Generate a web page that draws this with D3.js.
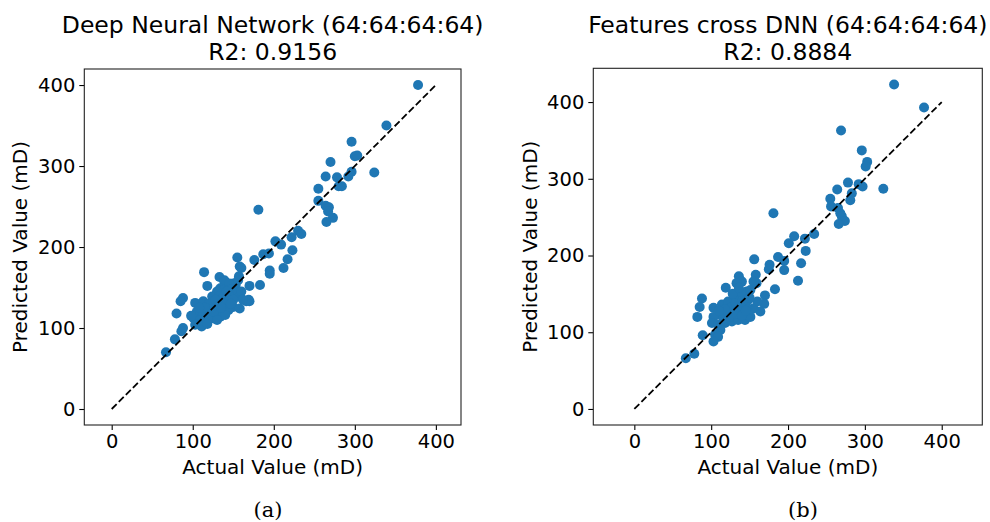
<!DOCTYPE html>
<html>
<head>
<meta charset="utf-8">
<script src="https://cdn.jsdelivr.net/npm/d3@7"></script>
<style>
  html, body { margin: 0; padding: 0; background: #fff; }
  svg { display: block; }
</style>
</head>
<body>
<svg id="chart" width="990" height="522"></svg>
<script>
// ---------- data ----------
const ticks = [0, 100, 200, 300, 400];
const tickLabels = ["0", "100", "200", "300", "400"];
const titlesA = ["Deep Neural Network (64:64:64:64)", "R2: 0.9156"];
const titlesB = ["Features cross DNN (64:64:64:64)", "R2: 0.8884"];
const xLabel = "Actual Value (mD)";
const yLabel = "Predicted Value (mD)";
const captions = ["(a)", "(b)"];
const identityLine = [[0, 0], [400, 400]];

// Panel (a): [actual, predicted]
const dnnPoints = [
  [378,400],[339,350],[296,330],[300,312],[303,313],[270,305],[296,293],[324,292],[264,287],[278,286],
  [292,287],[280,275],[284,275],[255,272],[255,257],[264,251],[268,249],[267,244],[273,236],[265,231],
  [181,246],[230,220],[234,216],[222,212],[202,207],[209,203],[223,196],[194,192],[187,191],[217,185],
  [155,187],[176,184],[212,174],[158,176],[160,174],[195,171],[195,167],[114,169],[118,152],[133,163],
  [139,159],[150,155],[153,153],[170,152],[183,153],[157,164],[156,159],[139,157],[145,155],[134,149],
  [138,147],[130,145],[148,148],[152,143],[158,139],[124,139],[132,139],[138,139],[88,137],[85,133],
  [103,131],[113,133],[166,133],[169,135],[124,126],[134,128],[142,131],[150,126],[158,124],[80,118],
  [105,120],[113,118],[121,116],[130,118],[138,118],[144,122],[101,112],[109,110],[117,112],[125,112],
  [134,114],[140,116],[88,100],[86,96],[111,102],[103,104],[78,86],[67,70],
  [120,130],[128,135],[145,140],[150,135],[115,125],[118,105],[126,120],[135,125],[142,145],[147,130],
  [160,145],[130,110],[98,115],[108,125],[170,133],[162,135]
];

// Panel (b): [actual, predicted]
const crossPoints = [
  [338,423],[377,393],[269,363],[296,337],[303,322],[301,316],[278,295],[264,286],[292,293],[297,290],
  [324,287],[283,281],[281,272],[255,274],[256,264],[265,262],[268,255],[270,251],[274,245],[266,241],
  [181,255],[208,225],[201,216],[222,222],[234,228],[223,206],[217,190],[187,198],[195,193],[176,188],
  [195,181],[175,182],[156,195],[213,167],[183,156],[158,175],[159,164],[136,173],[140,166],[133,164],
  [119,158],[155,166],[88,144],[85,133],[82,120],[103,132],[114,136],[122,140],[131,146],[140,151],
  [146,153],[151,155],[170,148],[169,137],[164,127],[155,131],[146,133],[138,129],[129,127],[120,125],
  [112,123],[103,120],[101,112],[109,110],[118,112],[127,114],[135,116],[144,116],[151,120],[112,103],
  [105,97],[109,94],[103,88],[89,96],[78,72],[67,66],
  [125,132],[132,138],[140,140],[148,142],[116,118],[124,120],[132,124],[140,122],[118,130],[145,128],
  [128,150],[136,158],[160,140],[110,128],[150,145]
];

// ---------- drawing ----------
const svg = d3.select("#chart");
const FONT = "DejaVu Sans, sans-serif";
const COLOR = "#1f77b4";

const panels = [
  { points: dnnPoints, titles: titlesA, caption: captions[0], capX: 268,
    xDom: [-33.8, 431], xRange: [84.3, 461], yDom: [-19.75, 419.8], yRange: [425, 69], yLabelX: 20 },
  { points: crossPoints, titles: titlesB, caption: captions[1], capX: 803,
    xDom: [-53.4, 452.8], xRange: [593.3, 982.3], yDom: [-20.9, 444], yRange: [425, 68.3], yLabelX: 530 }
];

panels.forEach(p => {
  const x = d3.scaleLinear().domain(p.xDom).range(p.xRange);
  const y = d3.scaleLinear().domain(p.yDom).range(p.yRange);
  const g = svg.append("g");

  const left = p.xRange[0], right = p.xRange[1], top = p.yRange[1], bottom = p.yRange[0];
  const cx = (left + right) / 2;

  const clipId = "clip" + Math.round(left);
  svg.append("defs").append("clipPath").attr("id", clipId)
    .append("rect").attr("x", left).attr("y", top).attr("width", right - left).attr("height", bottom - top);

  const plot = g.append("g").attr("clip-path", `url(#${clipId})`);

  plot.selectAll("circle").data(p.points).enter().append("circle")
    .attr("cx", d => x(d[0])).attr("cy", d => y(d[1])).attr("r", 5)
    .attr("fill", COLOR);

  plot.append("path")
    .attr("d", d3.line().x(d => x(d[0])).y(d => y(d[1]))(identityLine))
    .attr("fill", "none").attr("stroke", "#000").attr("stroke-width", 1.8)
    .attr("stroke-dasharray", "7,3");

  const xAxis = d3.axisBottom(x).tickValues(ticks).tickFormat((d, i) => tickLabels[i])
    .tickSize(5).tickPadding(4);
  const yAxis = d3.axisLeft(y).tickValues(ticks).tickFormat((d, i) => tickLabels[i])
    .tickSize(5).tickPadding(4);

  const gx = g.append("g").attr("transform", `translate(0,${bottom})`).call(xAxis);
  const gy = g.append("g").attr("transform", `translate(${left},0)`).call(yAxis);
  [gx, gy].forEach(a => {
    a.select(".domain").remove();
    a.selectAll(".tick line").attr("stroke", "#000").attr("stroke-width", 1.1);
    a.selectAll(".tick text").attr("fill", "#000").style("font-family", FONT).style("font-size", "19.5px");
  });

  g.append("rect").attr("x", left).attr("y", top).attr("width", right - left).attr("height", bottom - top)
    .attr("fill", "none").attr("stroke", "#222").attr("stroke-width", 1.1);

  g.append("text").attr("x", cx).attr("y", 33).attr("text-anchor", "middle")
    .style("font-family", FONT).style("font-size", "23.5px").text(p.titles[0]);
  g.append("text").attr("x", cx).attr("y", 60).attr("text-anchor", "middle")
    .style("font-family", FONT).style("font-size", "23.5px").text(p.titles[1]);

  g.append("text").attr("x", cx).attr("y", 474).attr("text-anchor", "middle")
    .style("font-family", FONT).style("font-size", "20px").text(xLabel);
  g.append("text").attr("transform", `translate(${p.yLabelX + 7},${(top + bottom) / 2}) rotate(-90)`)
    .attr("text-anchor", "middle")
    .style("font-family", FONT).style("font-size", "20px").text(yLabel);

  g.append("text").attr("x", p.capX).attr("y", 517).attr("text-anchor", "middle")
    .style("font-family", "DejaVu Serif, Liberation Serif, serif").style("font-size", "21px").text(p.caption);
});
</script>
</body>
</html>
